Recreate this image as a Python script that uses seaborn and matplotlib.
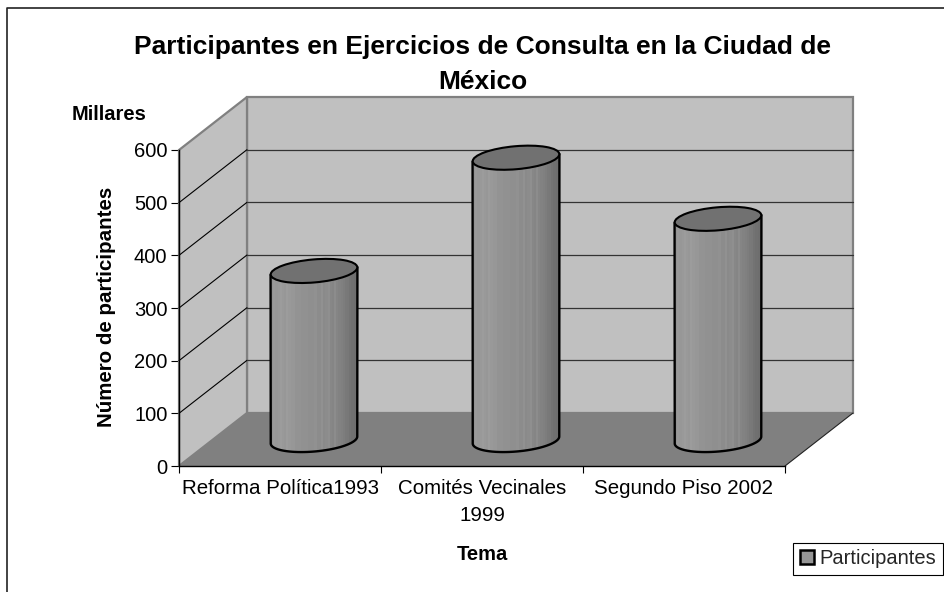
import numpy as np
import matplotlib
matplotlib.use("Agg")
import matplotlib.pyplot as plt
import seaborn as sns
from matplotlib.lines import Line2D
from matplotlib.patches import Ellipse, PathPatch, Polygon, Rectangle
from matplotlib.path import Path
from matplotlib.transforms import IdentityTransform

temas = ["Reforma Política1993", "Comités Vecinales\n1999", "Segundo Piso 2002"]
participantes = [321, 536, 420]
marcas_y = [0, 100, 200, 300, 400, 500, 600]

W, H = 945, 592
sns.set_theme(style="white")
plt.rcParams["font.family"] = ["Liberation Sans", "DejaVu Sans"]

fig = plt.figure(figsize=(W / 100, H / 100), dpi=100)
# front plane of the fake 3D box
ax = fig.add_axes([179 / W, 1 - 466 / H, 606 / W, 316 / H])
ax.patch.set_alpha(0)

sns.barplot(x=temas, y=participantes, width=0.43, color="#969696", ax=ax, zorder=5)
ax.set_xlim(-0.5, 2.5)
ax.set_ylim(0, 600)

px = IdentityTransform()
DX, DY = 68, 53


def to_px(x, y):
    return tuple(ax.transData.transform((x, y)))


def shift(p, dx=DX, dy=DY):
    return (p[0] + dx, p[1] + dy)


# walls and floor
fl, fr = to_px(-0.5, 0), to_px(2.5, 0)
tl, tr = to_px(-0.5, 600), to_px(2.5, 600)
ax.add_patch(Polygon([shift(fl), shift(fr), shift(tr), shift(tl)],
                     transform=px, fc="#c0c0c0", ec="#808080", lw=1.6, zorder=1, clip_on=False))
ax.add_patch(Polygon([fl, shift(fl), shift(tl), tl],
                     transform=px, fc="#c0c0c0", ec="#808080", lw=1.6, zorder=1, clip_on=False))
ax.add_patch(Polygon([fl, fr, shift(fr), shift(fl)],
                     transform=px, fc="#808080", ec="none", zorder=2, clip_on=False))
ax.add_line(Line2D([fr[0], fr[0] + DX], [fr[1], fr[1] + DY], transform=px, color="#222222", lw=0.8,
                   zorder=3, clip_on=False))

# gridlines on the two walls
for v in marcas_y[1:-1]:
    p = to_px(-0.5, v)
    q = shift(p)
    ax.add_line(Line2D([p[0], q[0]], [p[1], q[1]], transform=px, color="black", lw=0.8, zorder=3, clip_on=False))
    ax.add_line(Line2D([q[0], q[0] + 606], [q[1], q[1]], transform=px, color="#333333", lw=0.9, zorder=3, clip_on=False))

# cylinder shading: grey steps with the lighter streaks of the original
niveles = np.array([0.58, 0.60, 0.59, 0.60, 0.61, 0.60, 0.59, 0.61, 0.60, 0.59,
                    0.59, 0.58, 0.58, 0.58, 0.57, 0.57, 0.57, 0.56, 0.56, 0.56,
                    0.57, 0.55, 0.55, 0.57, 0.54, 0.55, 0.56, 0.53, 0.52, 0.55,
                    0.52, 0.51, 0.50, 0.49, 0.48, 0.47, 0.45, 0.44, 0.43, 0.41])
gris = np.tile(niveles, (2, 1))
TILT = 5
ALTO = 23
barras = [b for b in ax.patches if isinstance(b, Rectangle)]
for barra in barras:
    x0, x1 = barra.get_x(), barra.get_x() + barra.get_width()
    v = barra.get_height()
    a = shift(to_px(x0, 0), 34, 26)
    b = shift(to_px(x1, 0), 34, 26)
    ancho = b[0] - a[0]
    cx = (a[0] + b[0]) / 2
    y_base, y_top = a[1], shift(to_px(x0, v), 34, 26)[1]
    barra.set_visible(False)

    ang = np.deg2rad(np.linspace(180, 360, 60))
    ex = ancho / 2 * np.cos(ang)
    ey = ALTO / 2 * np.sin(ang)
    t = np.deg2rad(TILT)
    arc_x = cx + ex * np.cos(t) - ey * np.sin(t)
    arc_y = y_base + ex * np.sin(t) + ey * np.cos(t)
    dy_l = -ancho / 2 * np.sin(t)
    dy_r = ancho / 2 * np.sin(t)
    xs = np.r_[cx - ancho / 2, arc_x, cx + ancho / 2]
    ys = np.r_[y_top + dy_l, arc_y, y_top + dy_r]
    cuerpo = Path(np.column_stack([np.r_[xs, xs[0]], np.r_[ys, ys[0]]]))

    img = ax.imshow(gris, cmap="gray", vmin=0, vmax=1, aspect="auto", interpolation="nearest",
                    extent=(a[0], b[0], arc_y.min() - 2, y_top + 20), transform=px, zorder=5)
    img.set_clip_path(PathPatch(cuerpo, transform=px))
    ax.add_line(Line2D(xs, ys, transform=px, color="black", lw=1.7, zorder=6, clip_on=False))
    ax.add_patch(Ellipse((cx, y_top), ancho, ALTO, angle=TILT, transform=px, fc="#717171", ec="black",
                         lw=1.5, zorder=7, clip_on=False))
ax.set_xlim(-0.5, 2.5)
ax.set_ylim(0, 600)

# axes, ticks, labels
sns.despine(ax=ax, top=True, right=True)
for s in ["left", "bottom"]:
    ax.spines[s].set_color("black")
    ax.spines[s].set_linewidth(1.0)
    ax.spines[s].set_zorder(8)
ax.set_yticks(marcas_y)
ax.set_xticks([0, 1, 2])
ax.set_xticklabels(temas, linespacing=1.5)
ax.set_xticks([-0.5, 0.5, 1.5, 2.5], minor=True)
ax.tick_params(axis="x", which="major", length=0, pad=9.5, labelsize=14.8, colors="black")
ax.tick_params(axis="x", which="minor", length=5, width=0.8, color="black", bottom=True)
ax.tick_params(axis="y", length=5.8, width=0.8, pad=2.5, labelsize=14.5, left=True, colors="black")
ax.set_xlabel("Tema", fontsize=14.5, fontweight="bold", color="black")
ax.xaxis.set_label_coords(0.5, -0.25)
ax.set_ylabel("Número de participantes", fontsize=14.8, fontweight="bold", color="black")
ax.yaxis.set_label_coords(-0.104, 0.505)

fig.text(483 / W, 1 - 64.5 / H, "Participantes en Ejercicios de Consulta en la Ciudad de\nMéxico",
         ha="center", va="center", fontsize=19, fontweight="bold", color="black", linespacing=1.55)
fig.text(109 / W, 1 - 114 / H, "Millares", ha="center", va="center", fontsize=14.5, fontweight="bold", color="black")

mano = Rectangle((0, 0), 1, 1, fc="#969696", ec="black", lw=1.8)
leg = fig.legend([mano], ["Participantes"], loc="lower left", bbox_to_anchor=(793 / W, 1 - 575 / H),
                 fontsize=14.5, frameon=True, fancybox=False, edgecolor="black", framealpha=1,
                 handlelength=0.7, handleheight=0.7, handletextpad=0.3, borderpad=0.33, borderaxespad=0)
leg.get_frame().set_linewidth(0.8)

# chart frame: only left and top edges fall inside the picture
fig.add_artist(Line2D([7.5 / W, 7.5 / W, 1], [0, 1 - 7.5 / H, 1 - 7.5 / H], transform=fig.transFigure,
                      color="#222222", lw=1.2))

fig.savefig("out.png", dpi=100)
